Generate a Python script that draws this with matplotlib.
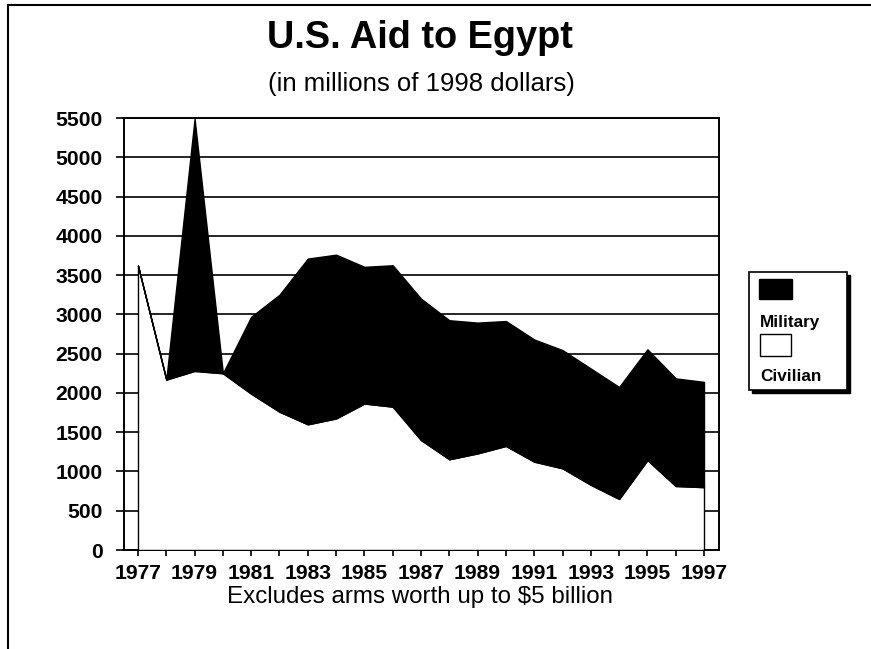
import matplotlib
matplotlib.use("Agg")
import matplotlib.pyplot as plt
from matplotlib.patches import Rectangle
from matplotlib.lines import Line2D

plt.rcParams['font.family'] = ['Liberation Sans', 'DejaVu Sans']

years = list(range(1977, 1998))
civilian = [3620, 2170, 2280, 2250, 1990, 1760, 1600, 1675, 1865, 1825, 1400,
            1155, 1230, 1325, 1125, 1040, 830, 650, 1145, 815, 800]
military = [0, 0, 3210, 0, 980, 1490, 2110, 2085, 1740, 1800, 1800,
            1770, 1665, 1590, 1555, 1505, 1480, 1425, 1410, 1370, 1340]
yticks = list(range(0, 5501, 500))

W, H = 871, 649
fig = plt.figure(figsize=(W / 100, H / 100), dpi=100)

def fx(px):
    return px / W

def fy(py):
    return 1 - py / H

ax = fig.add_axes([fx(123.5), fy(550), (718.5 - 123.5) / W, (550 - 118) / H])
ax.stackplot(years, civilian, military, colors=['white', 'black'],
             edgecolor='black', linewidth=1.0, zorder=3)
ax.set_xlim(1976.488, 1997.512)
ax.set_ylim(0, 5500)
ax.set_yticks(yticks)
ax.set_xticks(years)
ax.set_xticklabels([str(y) if (y - 1977) % 2 == 0 else '' for y in years])
ax.grid(axis='y', color='black', linewidth=1.2)
ax.set_axisbelow(True)
for s in ax.spines.values():
    s.set_linewidth(1.4)
    s.set_color('black')
ax.tick_params(axis='y', length=6, width=1.2, pad=9, labelsize=15.2)
ax.tick_params(axis='x', length=4, width=1.2, pad=6, labelsize=15.2)
for lab in ax.get_xticklabels() + ax.get_yticklabels():
    lab.set_fontweight('bold')

fig.text(fx(420), fy(48), 'U.S. Aid to Egypt', ha='center', va='baseline',
         fontsize=27.3, fontweight='bold')
fig.text(fx(421.5), fy(91.5), '(in millions of 1998 dollars)', ha='center',
         va='baseline', fontsize=18.5)
fig.text(fx(420), fy(603), 'Excludes arms worth up to $5 billion', ha='center',
         va='baseline', fontsize=17.4)

# legend box with shadow
fig.add_artist(Rectangle((fx(752), fy(393)), (847 - 749) / W, (390 - 272) / H,
                         transform=fig.transFigure, facecolor='black',
                         edgecolor='black', zorder=5))
fig.add_artist(Rectangle((fx(749), fy(390)), (847 - 749) / W, (390 - 272) / H,
                         transform=fig.transFigure, facecolor='white',
                         edgecolor='black', linewidth=1.2, zorder=6))
fig.add_artist(Rectangle((fx(759), fy(299)), 33 / W, 20 / H,
                         transform=fig.transFigure, facecolor='black',
                         edgecolor='black', linewidth=1, zorder=7))
fig.text(fx(760), fy(327), 'Military', ha='left', va='baseline', fontsize=12.3,
         fontweight='bold', zorder=7)
fig.add_artist(Rectangle((fx(760), fy(356)), 31 / W, 22 / H,
                         transform=fig.transFigure, facecolor='white',
                         edgecolor='black', linewidth=1, zorder=7))
fig.text(fx(760), fy(381), 'Civilian', ha='left', va='baseline', fontsize=12.3,
         fontweight='bold', zorder=7)

# page border (top and left)
fig.add_artist(Line2D([fx(8), fx(8)], [fy(5), 0], transform=fig.transFigure,
                      color='black', linewidth=1.5))
fig.add_artist(Line2D([fx(8), 1], [fy(5), fy(5)], transform=fig.transFigure,
                      color='black', linewidth=1.5))

fig.savefig('out.png', dpi=100)
